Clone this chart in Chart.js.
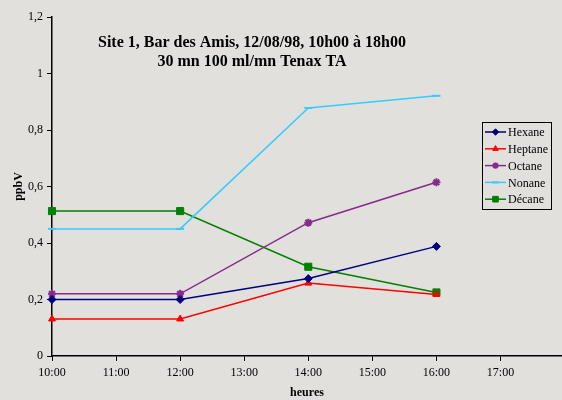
<!DOCTYPE html>
<html>
<head>
<meta charset="utf-8">
<script src="https://cdn.jsdelivr.net/npm/chart.js@4"></script>
<style>
  html, body { margin: 0; padding: 0; background: #e2e0dd; }
  #wrap { width: 562px; height: 400px; position: relative; }
</style>
</head>
<body>
<div id="wrap"><canvas id="chart"></canvas></div>
<script>
// data
const hours = [10, 12, 14, 16];
const hexane = [0.20, 0.20, 0.274, 0.388];
const heptane = [0.131, 0.131, 0.258, 0.218];
const octane = [0.22, 0.22, 0.472, 0.615];
const nonane = [0.45, 0.45, 0.878, 0.921];
const decane = [0.513, 0.513, 0.316, 0.225];
const titleLines = ['Site 1, Bar des Amis, 12/08/98, 10h00 à 18h00', '30 mn 100 ml/mn Tenax TA'];

const serif = "'Liberation Serif', 'Times New Roman', serif";

function pts(vals) {
  return hours.map((h, i) => ({ x: h, y: vals[i] }));
}

function serie(label, vals, color, style, radius) {
  return {
    label: label,
    data: pts(vals),
    borderColor: color,
    backgroundColor: color,
    borderWidth: 1.5,
    pointStyle: style,
    pointRadius: radius,
    pointBorderColor: color,
    pointBackgroundColor: color,
    pointBorderWidth: style === 'star' || style === 'line' ? 2 : 1,
    tension: 0,
    clip: 8
  };
}

// fond + titre + légende dessinés à la main
const decor = {
  id: 'decor',
  beforeDraw(chart) {
    const ctx = chart.ctx;
    ctx.save();
    ctx.fillStyle = '#e2e0dd';
    ctx.fillRect(0, 0, chart.width, chart.height);
    ctx.restore();
  },
  afterDraw(chart) {
    const ctx = chart.ctx;
    ctx.save();
    ctx.fillStyle = '#000';
    ctx.font = 'bold 16px ' + serif;
    ctx.textAlign = 'center';
    ctx.textBaseline = 'middle';
    ctx.fillText(titleLines[0], 252, 43);
    ctx.fillText(titleLines[1], 252, 62);

    // légende
    const bx = 482, by = 122, bw = 69, bh = 87;
    ctx.strokeStyle = '#000';
    ctx.lineWidth = 1;
    ctx.strokeRect(bx + 0.5, by + 0.5, bw, bh);
    ctx.font = '12px ' + serif;
    ctx.textAlign = 'left';
    chart.data.datasets.forEach((ds, i) => {
      const y = 132 + i * 16.8;
      ctx.strokeStyle = ds.borderColor;
      ctx.lineWidth = 1.5;
      ctx.beginPath();
      ctx.moveTo(485, y);
      ctx.lineTo(506, y);
      ctx.stroke();
      if (Chart.helpers && Chart.helpers.drawPoint) {
        ctx.fillStyle = ds.pointBackgroundColor;
        ctx.strokeStyle = ds.pointBorderColor;
        ctx.lineWidth = ds.pointBorderWidth;
        Chart.helpers.drawPoint(ctx, { pointStyle: ds.pointStyle, radius: ds.pointRadius * 0.8, rotation: 0, borderWidth: ds.pointBorderWidth }, 495.5, y);
      }
      ctx.fillStyle = '#000';
      ctx.fillText(ds.label, 508, y + 1);
    });
    ctx.restore();
  }
};

new Chart(document.getElementById('chart'), {
  type: 'line',
  data: {
    datasets: [
      serie('Hexane', hexane, '#000080', 'rectRot', 4),
      serie('Heptane', heptane, '#ff0000', 'triangle', 4),
      serie('Octane', octane, '#862a8c', 'star', 4),
      serie('Nonane', nonane, '#33ccff', 'line', 4),
      serie('Décane', decane, '#008000', 'rect', 5)
    ]
  },
  options: {
    responsive: true,
    maintainAspectRatio: false,
    animation: false,
    layout: { autoPadding: false, padding: { top: 17, right: 0, left: 0, bottom: 0 } },
    scales: {
      x: {
        type: 'linear',
        min: 10,
        max: 17.96,
        afterBuildTicks: s => { s.ticks = s.ticks.filter(t => Number.isInteger(t.value)); },
        afterFit: s => { s.height = 44; s.paddingRight = 0; },
        grid: { drawOnChartArea: false, drawTicks: true, tickLength: 5, color: '#000' },
        border: { display: true, color: '#000', width: 1.5 },
        ticks: {
          stepSize: 1,
          padding: 5,
          maxRotation: 0,
          color: '#000',
          font: { family: serif, size: 12 },
          callback: v => Number.isInteger(v) ? v + ':00' : ''
        },
        title: {
          display: true,
          text: 'heures',
          color: '#000',
          font: { family: serif, size: 12, weight: 'bold' },
          padding: { top: 4, bottom: 0 }
        }
      },
      y: {
        min: 0,
        max: 1.2,
        afterFit: s => { s.width = 52; },
        grid: { drawOnChartArea: false, drawTicks: true, tickLength: 5, color: '#000' },
        border: { display: true, color: '#000', width: 1.5 },
        ticks: {
          stepSize: 0.2,
          padding: 4,
          color: '#000',
          font: { family: serif, size: 12 },
          callback: v => String(Math.round(v * 10) / 10).replace('.', ',')
        },
        title: {
          display: true,
          text: 'ppbV',
          color: '#000',
          font: { family: serif, size: 12, weight: 'bold' },
          padding: { top: 12, bottom: 0 }
        }
      }
    },
    plugins: {
      legend: { display: false },
      title: { display: false },
      tooltip: { enabled: false }
    }
  },
  plugins: [decor]
});
</script>
</body>
</html>
